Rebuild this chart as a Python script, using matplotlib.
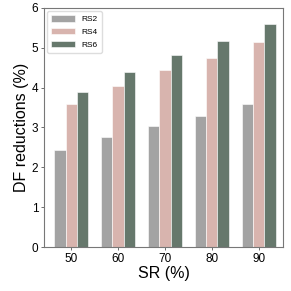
import numpy as np
import matplotlib
matplotlib.use("Agg")
from matplotlib import pyplot as plt

plt.rcParams['font.family'] = ['Liberation Sans', 'DejaVu Sans']

sr = ['50', '60', '70', '80', '90']
rs2 = [2.43, 2.76, 3.03, 3.29, 3.59]
rs4 = [3.60, 4.05, 4.45, 4.73, 5.15]
rs6 = [3.89, 4.40, 4.83, 5.17, 5.59]

x = np.arange(len(sr))
w = 0.24

fig = plt.figure(figsize=(2.91, 2.91), dpi=100)
ax = fig.add_axes([0.151, 0.151, 0.822, 0.822])

ax.bar(x - w, rs2, w, color='#a3a3a3', edgecolor='white', linewidth=0.4, label='RS2')
ax.bar(x, rs4, w, color='#d8b4ae', edgecolor='white', linewidth=0.4, label='RS4')
ax.bar(x + w, rs6, w, color='#66786c', edgecolor='white', linewidth=0.4, label='RS6')

ax.set_ylim(0, 6)
ax.set_xlim(-0.58, 4.52)
ax.set_xticks(x)
ax.set_xticklabels(sr)
ax.tick_params(labelsize=8.5, length=2, width=0.6, color='#555555', pad=2)
for s in ax.spines.values():
    s.set_color('#777777')
    s.set_linewidth(0.8)

ax.set_xlabel('SR (%)', fontsize=11.5, labelpad=1)
ax.set_ylabel('DF reductions (%)', fontsize=11.5, labelpad=2)

ax.legend(loc='upper left', fontsize=6, handlelength=2.8, handleheight=0.8,
          borderpad=0.5, labelspacing=0.55, handletextpad=0.8, framealpha=1,
          edgecolor='#dddddd', borderaxespad=0.4)

fig.savefig('out.png', dpi=100)
